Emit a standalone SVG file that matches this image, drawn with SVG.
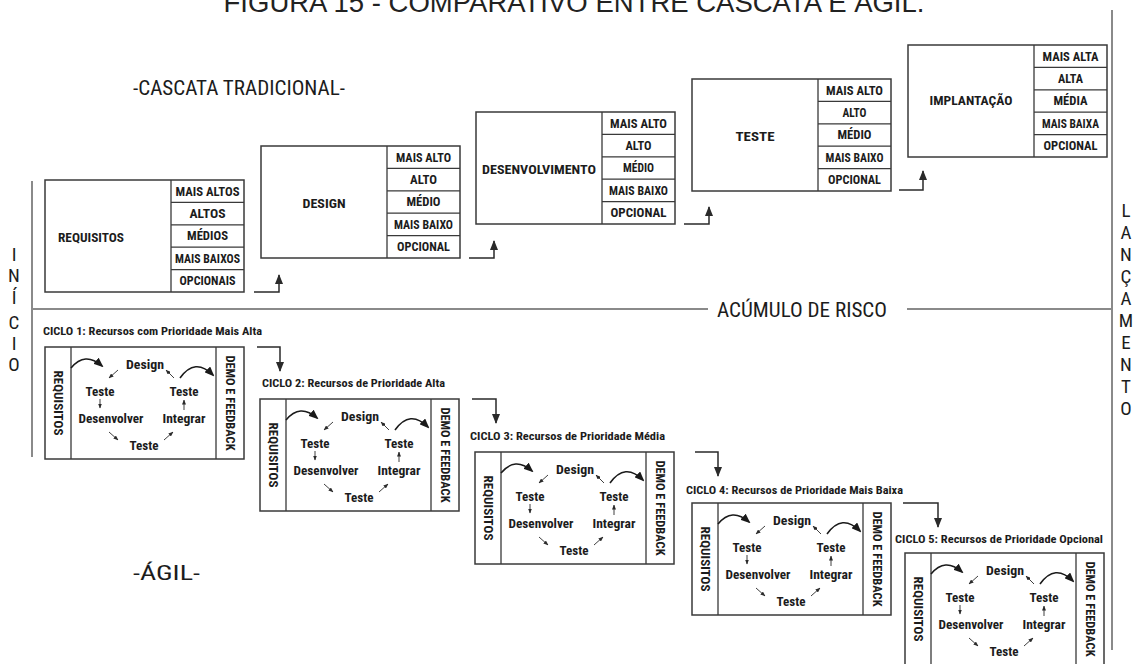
<svg xmlns="http://www.w3.org/2000/svg" width="1136" height="664" viewBox="0 0 1136 664">
<defs>
<style>
.t{font-family:"Roboto Condensed","DejaVu Sans Condensed",Roboto,"Liberation Sans",sans-serif;fill:#1c1c1c}
.box{fill:#fff;stroke:#3a3a3a;stroke-width:1.5}
.ln{stroke:#3a3a3a;stroke-width:1.3;fill:none}
.cell{font-size:12px;font-weight:bold;text-anchor:middle}
.hd{font-size:13.5px;font-weight:bold;text-anchor:middle}
.cy{font-size:13px;font-weight:bold;text-anchor:middle}
.vt{font-size:12px;font-weight:bold;text-anchor:middle}
.lb{font-size:11px;font-weight:bold}
.sep{stroke:#8a8a8a;stroke-width:2;fill:none}
.arr{stroke:#2a2a2a;stroke-width:1.5;fill:none;marker-end:url(#ah)}
.sa{stroke:#2a2a2a;stroke-width:0.9;fill:none;marker-end:url(#sh)}
.ca{stroke:#1a1a1a;stroke-width:1.6;fill:none;marker-end:url(#ch)}
.big{font-size:20px;font-weight:normal}
.let{font-size:19px;text-anchor:middle}
.title{font-family:"Liberation Sans",Arial,sans-serif;font-size:27.5px;fill:#222;text-anchor:middle}
</style>
<marker id="ah" markerUnits="userSpaceOnUse" markerWidth="10" markerHeight="8" refX="9" refY="4" orient="auto" viewBox="0 0 10 8"><path d="M0,0 L10,4 L0,8 z" fill="#2a2a2a"/></marker>
<marker id="sh" markerUnits="userSpaceOnUse" markerWidth="5" markerHeight="4" refX="4.5" refY="2" orient="auto" viewBox="0 0 5 4"><path d="M0,0 L5,2 L0,4 z" fill="#2a2a2a"/></marker>
<marker id="ch" markerUnits="userSpaceOnUse" markerWidth="10" markerHeight="8" refX="8" refY="4" orient="auto" viewBox="0 0 10 8"><path d="M0,0 L10,4 L0,8 z" fill="#1a1a1a"/></marker>
</defs>
<rect width="1136" height="664" fill="#fff"/>

<text class="title" x="574" y="12">FIGURA 15 - COMPARATIVO ENTRE CASCATA E ÁGIL.</text>
<text class="t big" x="133" y="95" textLength="212" lengthAdjust="spacingAndGlyphs">-CASCATA TRADICIONAL-</text>
<text class="t big" x="133" y="580" textLength="67" lengthAdjust="spacingAndGlyphs">-ÁGIL-</text>

<g id="separators">
<path class="sep" d="M32,181V457"/>
<path class="sep" d="M1112,10V650"/>
<path class="sep" d="M32,309H708M907,309H1112"/>
<text class="t" x="717" y="316.5" font-size="21" textLength="170" lengthAdjust="spacingAndGlyphs">ACÚMULO DE RISCO</text>
</g>

<g id="inicio" class="t">
<text class="t let" x="14" y="261">I</text>
<text class="t let" x="14" y="282">N</text>
<text class="t let" x="14" y="304">Í</text>
<text class="t let" x="14" y="329">C</text>
<text class="t let" x="14" y="350">I</text>
<text class="t let" x="14" y="371">O</text>
</g>
<g id="lancamento">
<text class="t let" x="1126" y="217">L</text>
<text class="t let" x="1126" y="239">A</text>
<text class="t let" x="1126" y="261">N</text>
<text class="t let" x="1126" y="283">Ç</text>
<text class="t let" x="1126" y="305">A</text>
<text class="t let" x="1126" y="327">M</text>
<text class="t let" x="1126" y="349">E</text>
<text class="t let" x="1126" y="371">N</text>
<text class="t let" x="1126" y="393">T</text>
<text class="t let" x="1126" y="415">O</text>
</g>

<g id="requisitos">
<rect class="box" x="45" y="180" width="199" height="112"/>
<path class="ln" d="M171,180V292M171,202.4H244M171,224.8H244M171,247.2H244M171,269.6H244"/>
<text class="t hd" x="91" y="241.8" textLength="66" lengthAdjust="spacingAndGlyphs">REQUISITOS</text>
<text class="t cell" x="207.5" y="195.5" textLength="64" lengthAdjust="spacingAndGlyphs">MAIS ALTOS</text>
<text class="t cell" x="207.5" y="217.9" textLength="36" lengthAdjust="spacingAndGlyphs">ALTOS</text>
<text class="t cell" x="207.5" y="240.3" textLength="41" lengthAdjust="spacingAndGlyphs">MÉDIOS</text>
<text class="t cell" x="207.5" y="262.7" textLength="65" lengthAdjust="spacingAndGlyphs">MAIS BAIXOS</text>
<text class="t cell" x="207.5" y="285.1" textLength="56" lengthAdjust="spacingAndGlyphs">OPCIONAIS</text>
</g>

<g id="design">
<rect class="box" x="261" y="146" width="199" height="112"/>
<path class="ln" d="M387,146V258M387,168.4H460M387,190.8H460M387,213.2H460M387,235.6H460"/>
<text class="t hd" x="324" y="207.5" textLength="43" lengthAdjust="spacingAndGlyphs">DESIGN</text>
<text class="t cell" x="423.5" y="161.5" textLength="55" lengthAdjust="spacingAndGlyphs">MAIS ALTO</text>
<text class="t cell" x="423.5" y="183.9" textLength="27" lengthAdjust="spacingAndGlyphs">ALTO</text>
<text class="t cell" x="423.5" y="206.3" textLength="34" lengthAdjust="spacingAndGlyphs">MÉDIO</text>
<text class="t cell" x="423.5" y="228.7" textLength="59" lengthAdjust="spacingAndGlyphs">MAIS BAIXO</text>
<text class="t cell" x="423.5" y="251.1" textLength="53" lengthAdjust="spacingAndGlyphs">OPCIONAL</text>
</g>

<g id="desenvolvimento">
<rect class="box" x="476" y="112" width="199" height="112"/>
<path class="ln" d="M602,112V224M602,134.4H675M602,156.8H675M602,179.2H675M602,201.6H675"/>
<text class="t hd" x="539" y="173.5" textLength="114" lengthAdjust="spacingAndGlyphs">DESENVOLVIMENTO</text>
<text class="t cell" x="638.5" y="127.5" textLength="57" lengthAdjust="spacingAndGlyphs">MAIS ALTO</text>
<text class="t cell" x="638.5" y="149.9" textLength="26" lengthAdjust="spacingAndGlyphs">ALTO</text>
<text class="t cell" x="638.5" y="172.3" textLength="31" lengthAdjust="spacingAndGlyphs">MÉDIO</text>
<text class="t cell" x="638.5" y="194.7" textLength="59" lengthAdjust="spacingAndGlyphs">MAIS BAIXO</text>
<text class="t cell" x="638.5" y="217.1" textLength="56" lengthAdjust="spacingAndGlyphs">OPCIONAL</text>
</g>

<g id="teste">
<rect class="box" x="692" y="79" width="199" height="112"/>
<path class="ln" d="M818,79V191M818,101.4H891M818,123.8H891M818,146.2H891M818,168.6H891"/>
<text class="t hd" x="755" y="140.5" textLength="39" lengthAdjust="spacingAndGlyphs">TESTE</text>
<text class="t cell" x="854.5" y="94.5" textLength="57" lengthAdjust="spacingAndGlyphs">MAIS ALTO</text>
<text class="t cell" x="854.5" y="116.9" textLength="24" lengthAdjust="spacingAndGlyphs">ALTO</text>
<text class="t cell" x="854.5" y="139.3" textLength="34" lengthAdjust="spacingAndGlyphs">MÉDIO</text>
<text class="t cell" x="854.5" y="161.7" textLength="58" lengthAdjust="spacingAndGlyphs">MAIS BAIXO</text>
<text class="t cell" x="854.5" y="184.1" textLength="53" lengthAdjust="spacingAndGlyphs">OPCIONAL</text>
</g>

<g id="implantacao">
<rect class="box" x="908" y="45" width="199" height="112"/>
<path class="ln" d="M1034,45V157M1034,67.4H1107M1034,89.8H1107M1034,112.2H1107M1034,134.6H1107"/>
<text class="t hd" x="971" y="105" textLength="83" lengthAdjust="spacingAndGlyphs">IMPLANTAÇÃO</text>
<text class="t cell" x="1070.5" y="60.5" textLength="56" lengthAdjust="spacingAndGlyphs">MAIS ALTA</text>
<text class="t cell" x="1070.5" y="82.9" textLength="25" lengthAdjust="spacingAndGlyphs">ALTA</text>
<text class="t cell" x="1070.5" y="105.3" textLength="34" lengthAdjust="spacingAndGlyphs">MÉDIA</text>
<text class="t cell" x="1070.5" y="127.7" textLength="57" lengthAdjust="spacingAndGlyphs">MAIS BAIXA</text>
<text class="t cell" x="1070.5" y="150.1" textLength="54" lengthAdjust="spacingAndGlyphs">OPCIONAL</text>
</g>

<g id="ciclo1" transform="translate(45,347)">
<rect class="box" x="0" y="0" width="199" height="112"/>
<path class="ln" d="M26,0V112M171,0V112"/>
<text class="t vt" transform="translate(13,56) rotate(90)" y="4.3" textLength="65" lengthAdjust="spacingAndGlyphs">REQUISITOS</text>
<text class="t vt" transform="translate(185,56) rotate(90)" y="4.3" textLength="95" lengthAdjust="spacingAndGlyphs">DEMO E FEEDBACK</text>
<text class="t cy" x="100" y="21.5" textLength="38" lengthAdjust="spacingAndGlyphs">Design</text>
<text class="t cy" x="55" y="48.5" textLength="29" lengthAdjust="spacingAndGlyphs">Teste</text>
<text class="t cy" x="139" y="48.5" textLength="29" lengthAdjust="spacingAndGlyphs">Teste</text>
<text class="t cy" x="66" y="75.5" textLength="65" lengthAdjust="spacingAndGlyphs">Desenvolver</text>
<text class="t cy" x="139" y="75.5" textLength="43" lengthAdjust="spacingAndGlyphs">Integrar</text>
<text class="t cy" x="99" y="102.5" textLength="29" lengthAdjust="spacingAndGlyphs">Teste</text>
<path class="ca" d="M26,21 Q40,4 57,19"/>
<path class="ca" d="M135,31 Q150,10 168,28"/>
<path class="sa" d="M73,23 L64,31"/>
<path class="sa" d="M55,52 L55,61"/>
<path class="sa" d="M64,85 L73,93"/>
<path class="sa" d="M119,93 L128,85"/>
<path class="sa" d="M139,63 L139,53"/>
<path class="sa" d="M129,31 L121,23"/>
</g>

<g id="ciclo2" transform="translate(260,399)">
<rect class="box" x="0" y="0" width="199" height="112"/>
<path class="ln" d="M26,0V112M171,0V112"/>
<text class="t vt" transform="translate(13,56) rotate(90)" y="4.3" textLength="65" lengthAdjust="spacingAndGlyphs">REQUISITOS</text>
<text class="t vt" transform="translate(185,56) rotate(90)" y="4.3" textLength="95" lengthAdjust="spacingAndGlyphs">DEMO E FEEDBACK</text>
<text class="t cy" x="100" y="21.5" textLength="38" lengthAdjust="spacingAndGlyphs">Design</text>
<text class="t cy" x="55" y="48.5" textLength="29" lengthAdjust="spacingAndGlyphs">Teste</text>
<text class="t cy" x="139" y="48.5" textLength="29" lengthAdjust="spacingAndGlyphs">Teste</text>
<text class="t cy" x="66" y="75.5" textLength="65" lengthAdjust="spacingAndGlyphs">Desenvolver</text>
<text class="t cy" x="139" y="75.5" textLength="43" lengthAdjust="spacingAndGlyphs">Integrar</text>
<text class="t cy" x="99" y="102.5" textLength="29" lengthAdjust="spacingAndGlyphs">Teste</text>
<path class="ca" d="M26,21 Q40,4 57,19"/>
<path class="ca" d="M135,31 Q150,10 168,28"/>
<path class="sa" d="M73,23 L64,31"/>
<path class="sa" d="M55,52 L55,61"/>
<path class="sa" d="M64,85 L73,93"/>
<path class="sa" d="M119,93 L128,85"/>
<path class="sa" d="M139,63 L139,53"/>
<path class="sa" d="M129,31 L121,23"/>
</g>

<g id="ciclo3" transform="translate(475,452)">
<rect class="box" x="0" y="0" width="199" height="112"/>
<path class="ln" d="M26,0V112M171,0V112"/>
<text class="t vt" transform="translate(13,56) rotate(90)" y="4.3" textLength="65" lengthAdjust="spacingAndGlyphs">REQUISITOS</text>
<text class="t vt" transform="translate(185,56) rotate(90)" y="4.3" textLength="95" lengthAdjust="spacingAndGlyphs">DEMO E FEEDBACK</text>
<text class="t cy" x="100" y="21.5" textLength="38" lengthAdjust="spacingAndGlyphs">Design</text>
<text class="t cy" x="55" y="48.5" textLength="29" lengthAdjust="spacingAndGlyphs">Teste</text>
<text class="t cy" x="139" y="48.5" textLength="29" lengthAdjust="spacingAndGlyphs">Teste</text>
<text class="t cy" x="66" y="75.5" textLength="65" lengthAdjust="spacingAndGlyphs">Desenvolver</text>
<text class="t cy" x="139" y="75.5" textLength="43" lengthAdjust="spacingAndGlyphs">Integrar</text>
<text class="t cy" x="99" y="102.5" textLength="29" lengthAdjust="spacingAndGlyphs">Teste</text>
<path class="ca" d="M26,21 Q40,4 57,19"/>
<path class="ca" d="M135,31 Q150,10 168,28"/>
<path class="sa" d="M73,23 L64,31"/>
<path class="sa" d="M55,52 L55,61"/>
<path class="sa" d="M64,85 L73,93"/>
<path class="sa" d="M119,93 L128,85"/>
<path class="sa" d="M139,63 L139,53"/>
<path class="sa" d="M129,31 L121,23"/>
</g>

<g id="ciclo4" transform="translate(692,503)">
<rect class="box" x="0" y="0" width="199" height="112"/>
<path class="ln" d="M26,0V112M171,0V112"/>
<text class="t vt" transform="translate(13,56) rotate(90)" y="4.3" textLength="65" lengthAdjust="spacingAndGlyphs">REQUISITOS</text>
<text class="t vt" transform="translate(185,56) rotate(90)" y="4.3" textLength="95" lengthAdjust="spacingAndGlyphs">DEMO E FEEDBACK</text>
<text class="t cy" x="100" y="21.5" textLength="38" lengthAdjust="spacingAndGlyphs">Design</text>
<text class="t cy" x="55" y="48.5" textLength="29" lengthAdjust="spacingAndGlyphs">Teste</text>
<text class="t cy" x="139" y="48.5" textLength="29" lengthAdjust="spacingAndGlyphs">Teste</text>
<text class="t cy" x="66" y="75.5" textLength="65" lengthAdjust="spacingAndGlyphs">Desenvolver</text>
<text class="t cy" x="139" y="75.5" textLength="43" lengthAdjust="spacingAndGlyphs">Integrar</text>
<text class="t cy" x="99" y="102.5" textLength="29" lengthAdjust="spacingAndGlyphs">Teste</text>
<path class="ca" d="M26,21 Q40,4 57,19"/>
<path class="ca" d="M135,31 Q150,10 168,28"/>
<path class="sa" d="M73,23 L64,31"/>
<path class="sa" d="M55,52 L55,61"/>
<path class="sa" d="M64,85 L73,93"/>
<path class="sa" d="M119,93 L128,85"/>
<path class="sa" d="M139,63 L139,53"/>
<path class="sa" d="M129,31 L121,23"/>
</g>

<g id="ciclo5" transform="translate(905,553)">
<rect class="box" x="0" y="0" width="199" height="112"/>
<path class="ln" d="M26,0V112M171,0V112"/>
<text class="t vt" transform="translate(13,56) rotate(90)" y="4.3" textLength="65" lengthAdjust="spacingAndGlyphs">REQUISITOS</text>
<text class="t vt" transform="translate(185,56) rotate(90)" y="4.3" textLength="95" lengthAdjust="spacingAndGlyphs">DEMO E FEEDBACK</text>
<text class="t cy" x="100" y="21.5" textLength="38" lengthAdjust="spacingAndGlyphs">Design</text>
<text class="t cy" x="55" y="48.5" textLength="29" lengthAdjust="spacingAndGlyphs">Teste</text>
<text class="t cy" x="139" y="48.5" textLength="29" lengthAdjust="spacingAndGlyphs">Teste</text>
<text class="t cy" x="66" y="75.5" textLength="65" lengthAdjust="spacingAndGlyphs">Desenvolver</text>
<text class="t cy" x="139" y="75.5" textLength="43" lengthAdjust="spacingAndGlyphs">Integrar</text>
<text class="t cy" x="99" y="102.5" textLength="29" lengthAdjust="spacingAndGlyphs">Teste</text>
<path class="ca" d="M26,21 Q40,4 57,19"/>
<path class="ca" d="M135,31 Q150,10 168,28"/>
<path class="sa" d="M73,23 L64,31"/>
<path class="sa" d="M55,52 L55,61"/>
<path class="sa" d="M64,85 L73,93"/>
<path class="sa" d="M119,93 L128,85"/>
<path class="sa" d="M139,63 L139,53"/>
<path class="sa" d="M129,31 L121,23"/>
</g>

<g id="ciclo-labels">
<text class="t lb" x="43" y="335" textLength="219" lengthAdjust="spacingAndGlyphs">CICLO 1: Recursos com Prioridade Mais Alta</text>
<text class="t lb" x="262" y="387" textLength="183" lengthAdjust="spacingAndGlyphs">CICLO 2: Recursos de Prioridade Alta</text>
<text class="t lb" x="470" y="440" textLength="195" lengthAdjust="spacingAndGlyphs">CICLO 3: Recursos de Prioridade Média</text>
<text class="t lb" x="686" y="494" textLength="217" lengthAdjust="spacingAndGlyphs">CICLO 4: Recursos de Prioridade Mais Baixa</text>
<text class="t lb" x="895" y="543" textLength="208" lengthAdjust="spacingAndGlyphs">CICLO 5: Recursos de Prioridade Opcional</text>
</g>

<g id="connectors">
<path class="arr" d="M254,292H279V275"/>
<path class="arr" d="M469,258H494V241"/>
<path class="arr" d="M684,224H709V207"/>
<path class="arr" d="M899,190H923V171"/>
<path class="arr" d="M257,347H280V371"/>
<path class="arr" d="M472,399H496V423"/>
<path class="arr" d="M695,452H718V476"/>
<path class="arr" d="M903,503H938V527"/>
</g>
</svg>
